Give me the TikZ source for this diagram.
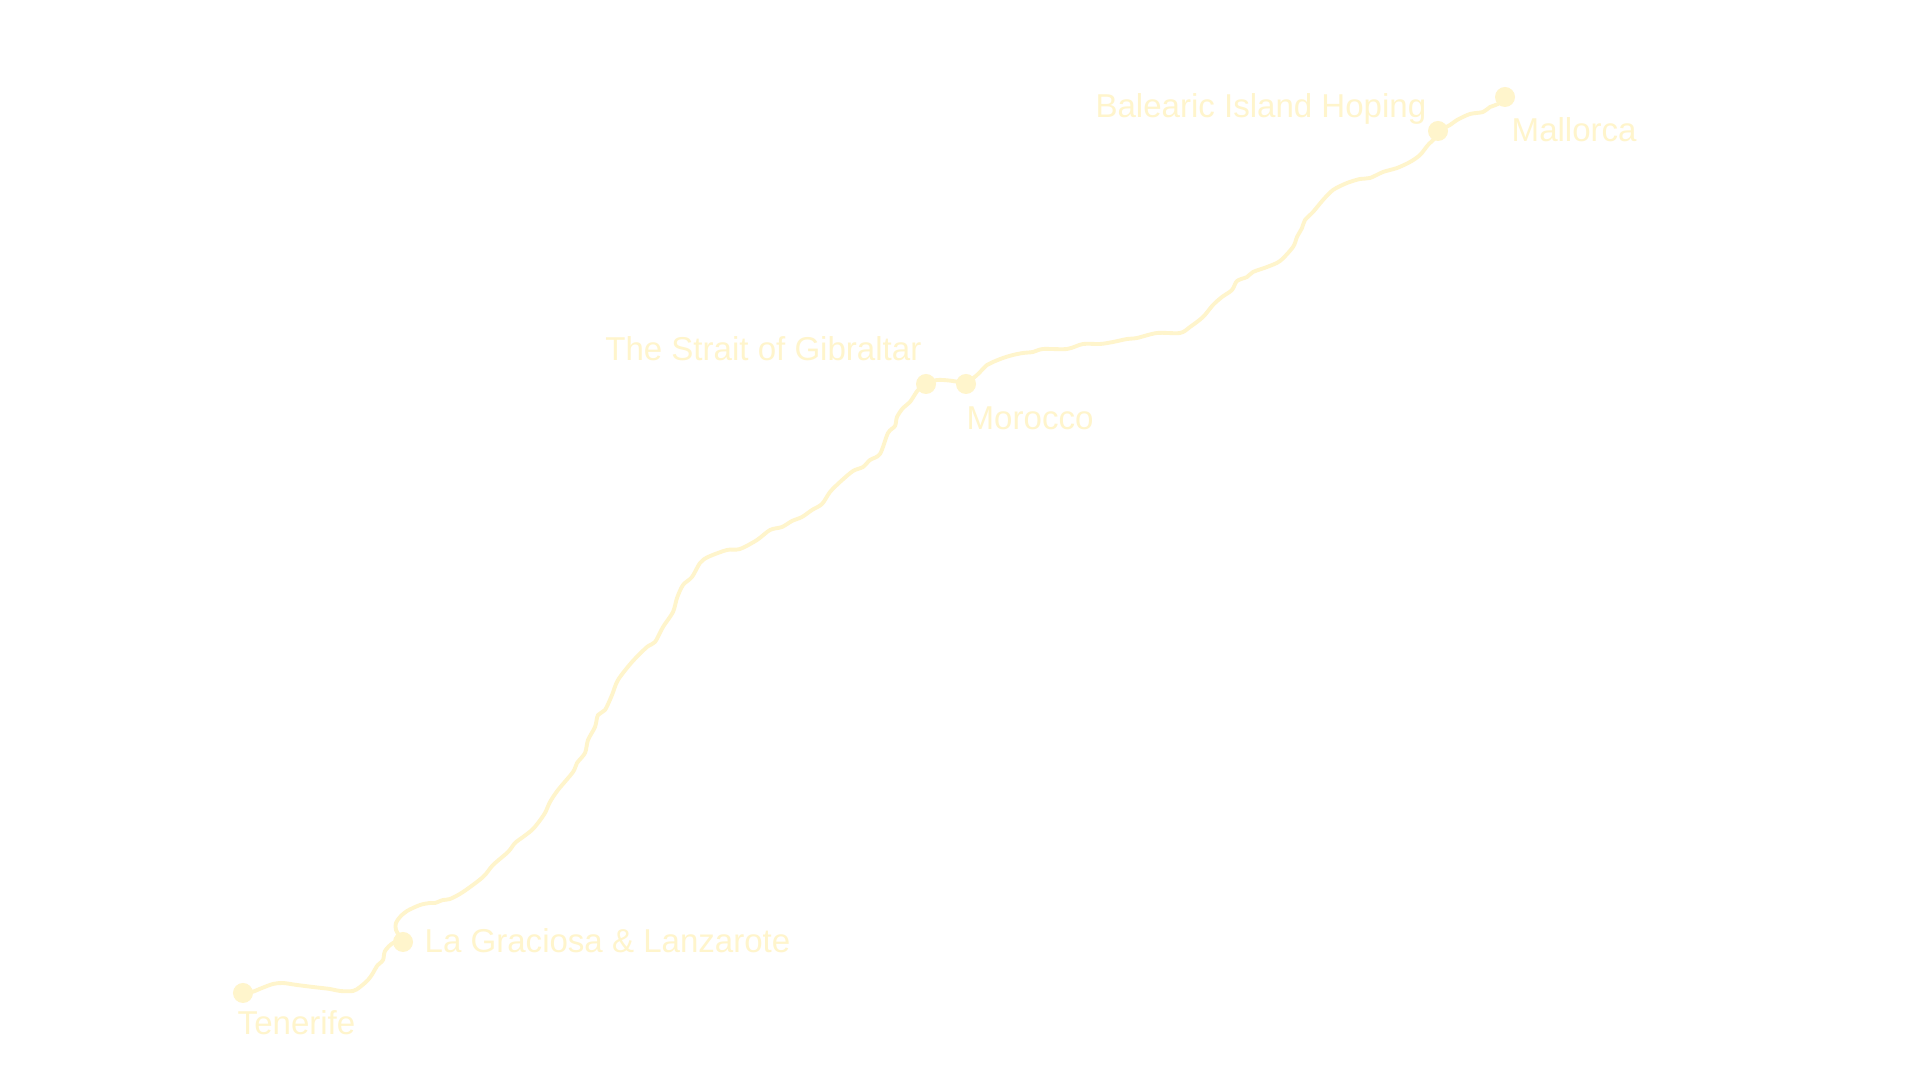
\documentclass[tikz,border=0pt]{standalone}
\usepackage{fontspec}
\setmainfont{Liberation Sans}
\usepackage{tikz}
\definecolor{routeyellow}{RGB}{255, 245, 204}

\begin{document}
\begin{tikzpicture}[
        x=0.01cm, y=-0.01cm,
        stopdot/.style={circle, fill=routeyellow, inner sep=0pt, minimum size=0.2cm},
        placename/.style={text=routeyellow, inner sep=0pt, font=\fontsize{9.4}{11}\selectfont},
        route/.style={draw=routeyellow, line width=1.1pt, line cap=round, line join=round}
    ]
        \fill[white] (0,0) rectangle (1920,1080);
        \useasboundingbox (0,0) rectangle (1920,1080);

        \node[stopdot] (tenerife) at (243,993) {};
        \node[stopdot] (graciosa) at (403,942) {};
        \node[stopdot] (gibraltar) at (926,384) {};
        \node[stopdot] (morocco) at (966,384) {};
        \node[stopdot] (balearic) at (1438,131) {};
        \node[stopdot] (mallorca) at (1505,97) {};

        \node[placename, anchor=base west] (tenerifelabel) at (237,1035) {Tenerife};
        \node[placename, anchor=base west] (graciosalabel) at (424,953) {La Graciosa \& Lanzarote};
        \node[placename, anchor=base east] (gibraltarlabel) at (922,361) {The Strait of Gibraltar};
        \node[placename, anchor=base west] (moroccolabel) at (966,430) {Morocco};
        \node[placename, anchor=base east] (balearlabel) at (1427,118) {Balearic Island Hoping};
        \node[placename, anchor=base west] (mallorcalabel) at (1511,142) {Mallorca};

        \draw[route] plot[smooth, tension=0.5] coordinates {(tenerife.center) (252,992) (262,988) (273,984) (283,983) (297,985) (313,987) (330,989) (340,991) (353,991) (360,987) (368,980) (373,973) (377,966) (383,960) (385,951) (393,943) (graciosa.center)};
        \draw[route] plot[smooth, tension=0.5] coordinates {(graciosa.center) (396,930) (396,923) (400,917) (407,911) (420,905) (430,903) (435,903) (443,900) (450,899) (463,892) (483,877) (493,865) (508,852) (515,843) (523,837) (532,830) (538,823) (545,813) (550,802) (558,790) (573,772) (577,763) (585,753) (588,740) (595,727) (598,715) (605,710) (612,695) (618,680) (632,662) (647,647) (655,642) (663,627) (673,612) (677,598) (683,585) (692,577) (700,563) (708,557) (727,550) (740,549) (757,540) (770,530) (782,527) (792,521) (802,517) (812,510) (822,504) (830,492) (840,482) (853,471) (863,467) (870,460) (880,454) (888,433) (895,426) (897,417) (903,408) (910,402) (918,390) (gibraltar.center)};
        \draw[route] plot[smooth, tension=0.5] coordinates {(gibraltar.center) (937,380) (953,381) (morocco.center)};
        \draw[route] plot[smooth, tension=0.5] coordinates {(morocco.center) (977,375) (987,365) (993,362) (1003,358) (1013,355) (1023,353) (1033,352) (1043,349) (1067,349) (1083,344) (1100,344) (1113,342) (1127,339) (1137,338) (1157,333) (1180,333) (1190,327) (1203,317) (1213,305) (1222,297) (1232,290) (1237,281) (1247,277) (1253,272) (1267,267) (1280,261) (1293,247) (1297,237) (1302,228) (1305,220) (1313,212) (1323,200) (1333,190) (1347,183) (1360,179) (1370,178) (1383,172) (1397,168) (1410,162) (1420,155) (1428,145) (1435,138) (balearic.center)};
        \draw[route] plot[smooth, tension=0.5] coordinates {(balearic.center) (1450,125) (1457,120) (1470,114) (1483,112) (1490,107) (1498,104) (mallorca.center)};
    \end{tikzpicture}
\end{document}
